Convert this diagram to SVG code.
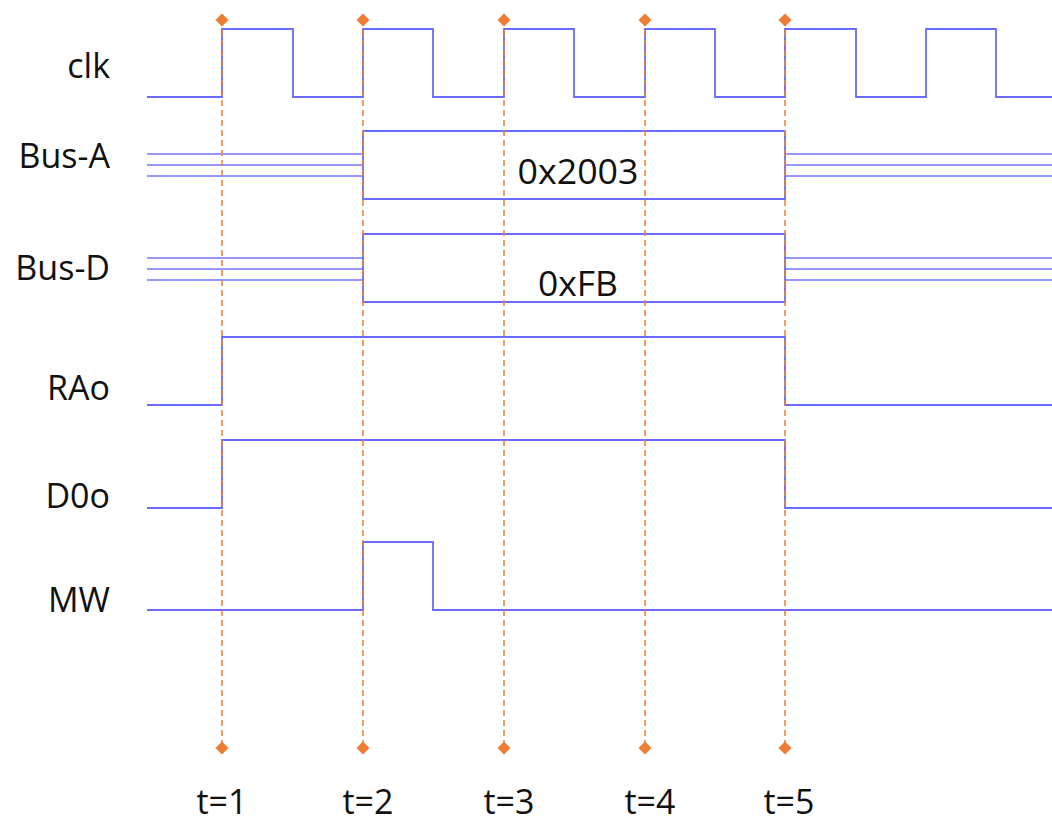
<svg xmlns="http://www.w3.org/2000/svg" width="1052" height="824" viewBox="0 0 1052 824">
<defs>
<style>
.sig{fill:none;stroke:#6b6bff;stroke-width:1.8;stroke-linejoin:miter}
.bus{fill:none;stroke:#7575ff;stroke-width:1.6}
.tick{fill:none;stroke:#ed7d31;stroke-width:1.5;stroke-dasharray:6 4}
.dia{fill:#ed7d31}
.lbl{font-family:"Open Sans","Liberation Sans",sans-serif;font-size:34px;fill:#111;text-anchor:end}
.val{font-family:"Open Sans","Liberation Sans",sans-serif;font-size:34px;fill:#111;text-anchor:middle}
</style>
<path id="d" d="M0,-6.5 L6.5,0 L0,6.5 L-6.5,0 Z"/>
</defs>
<rect width="1052" height="824" fill="#fff"/>
<g id="labels">
<text class="lbl" x="110" y="78">clk</text>
<text class="lbl" x="110" y="168">Bus-A</text>
<text class="lbl" x="110" y="280">Bus-D</text>
<text class="lbl" x="110" y="400">RAo</text>
<text class="lbl" x="110" y="508">D0o</text>
<text class="lbl" x="110" y="612">MW</text>
</g>
<g id="clk">
<path class="sig" d="M147,97 H222 V29 H293 V97 H363 V29 H433 V97 H504 V29 H574 V97 H645 V29 H715 V97 H785 V29 H856 V97 H926 V29 H996 V97 H1052"/>
</g>
<g id="busA">
<path class="bus" d="M147,154 H363 M147,165 H363 M147,176 H363 M785,154 H1052 M785,165 H1052 M785,176 H1052"/>
<path class="sig" d="M363,131 H785 V199 H363 Z"/>
<text class="val" x="578" y="184" textLength="121" lengthAdjust="spacingAndGlyphs">0x2003</text>
</g>
<g id="busD">
<path class="bus" d="M147,258 H363 M147,269 H363 M147,280 H363 M785,258 H1052 M785,269 H1052 M785,280 H1052"/>
<path class="sig" d="M363,234 H785 V302 H363 Z"/>
<text class="val" x="578" y="296" textLength="80" lengthAdjust="spacingAndGlyphs">0xFB</text>
</g>
<g id="RAo">
<path class="sig" d="M147,405 H222 V337 H785 V405 H1052"/>
</g>
<g id="D0o">
<path class="sig" d="M147,508 H222 V440 H785 V508 H1052"/>
</g>
<g id="MW">
<path class="sig" d="M147,610 H363 V542 H433 V610 H1052"/>
</g>
<g id="connectors">
<path class="tick" d="M222,20 V748 M363,20 V748 M504,20 V748 M645,20 V748 M785,20 V748"/>
<use href="#d" class="dia" x="222" y="20"/><use href="#d" class="dia" x="222" y="748"/>
<use href="#d" class="dia" x="363" y="20"/><use href="#d" class="dia" x="363" y="748"/>
<use href="#d" class="dia" x="504" y="20"/><use href="#d" class="dia" x="504" y="748"/>
<use href="#d" class="dia" x="645" y="20"/><use href="#d" class="dia" x="645" y="748"/>
<use href="#d" class="dia" x="785" y="20"/><use href="#d" class="dia" x="785" y="748"/>
</g>
<g id="times">
<text class="val" x="222" y="814">t=1</text>
<text class="val" x="368" y="814">t=2</text>
<text class="val" x="509" y="814">t=3</text>
<text class="val" x="650" y="814">t=4</text>
<text class="val" x="789" y="814">t=5</text>
</g>
</svg>
